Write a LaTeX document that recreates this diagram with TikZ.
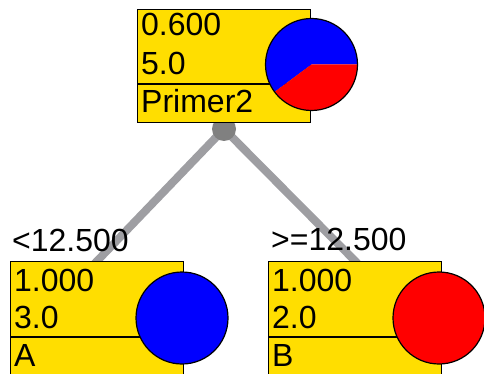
\documentclass[tikz,border=0pt]{standalone}
\usepackage{fontspec}
\setmainfont{Liberation Sans}
\usetikzlibrary{backgrounds}
\definecolor{boxyellow}{RGB}{255,222,0}
\definecolor{conngray}{RGB}{158,158,162}
\definecolor{dotgray}{RGB}{128,128,128}
\definecolor{pieblue}{RGB}{0,0,255}
\definecolor{piered}{RGB}{255,0,0}
\tikzset{
  treebox/.style={draw=black, line width=1.2pt, fill=boxyellow, rectangle, anchor=north west,
    minimum width=173pt, minimum height=113pt, inner sep=0pt},
  piering/.style={draw=black, line width=1.2pt, circle, minimum size=92pt, inner sep=0pt},
  txt/.style={anchor=base west, inner sep=0pt, font=\fontsize{32}{32}\selectfont, text=black},
  conn/.style={draw=conngray, line width=8pt, shorten >=-10pt},
  splitdot/.style={circle, fill=dotgray, minimum size=24pt, inner sep=0pt},
  divider/.style={draw=black, line width=1.2pt}
}
\begin{document}
\begin{tikzpicture}[x=1pt,y=-1pt]
\useasboundingbox (0,0) rectangle (484,374);
% boxes
\node[treebox] (root) at (137,9) {};
\node[treebox] (la) at (10,261) {};
\node[treebox] (lb) at (268,261) {};
% connectors behind
\begin{scope}[on background layer]
  \coordinate (split) at (224,129);
  \draw[conn] (split) -- (la.north);
  \draw[conn] (split) -- (lb.north);
  \node[splitdot] (splitnode) at (split) {};
\end{scope}
% dividers
\draw[divider] (137,84) -- (310,84);
\draw[divider] (10,337) -- (183,337);
\draw[divider] (268,337) -- (441,337);
% pies
\fill[pieblue] (311.5,64.5) -- ++(143.4:46) arc[start angle=143.4, end angle=360, radius=46] -- cycle;
\fill[piered] (311.5,64.5) -- ++(0:46) arc[start angle=0, end angle=143.4, radius=46] -- cycle;
\node[piering] (rootpie) at (311.5,64.5) {};
\node[piering, fill=pieblue] (lapie) at (182,318) {};
\node[piering, fill=piered] (lbpie) at (439,318) {};
% texts
\node[txt] (rootv) at (141,36) {0.600};
\node[txt] (rootn) at (141,75) {5.0};
\node[txt] (rootl) at (141,113) {Primer2};
\node[txt] (lav) at (14,291) {1.000};
\node[txt] (lan) at (14,328) {3.0};
\node[txt] (lal) at (14,366) {A};
\node[txt] (lbv) at (272,291) {1.000};
\node[txt] (lbn) at (272,328) {2.0};
\node[txt] (lbl) at (272,366) {B};
\node[txt] (lalab) at (12,251) {<12.500};
\node[txt] (lblab) at (271,250) {>=12.500};
\end{tikzpicture}
\end{document}
